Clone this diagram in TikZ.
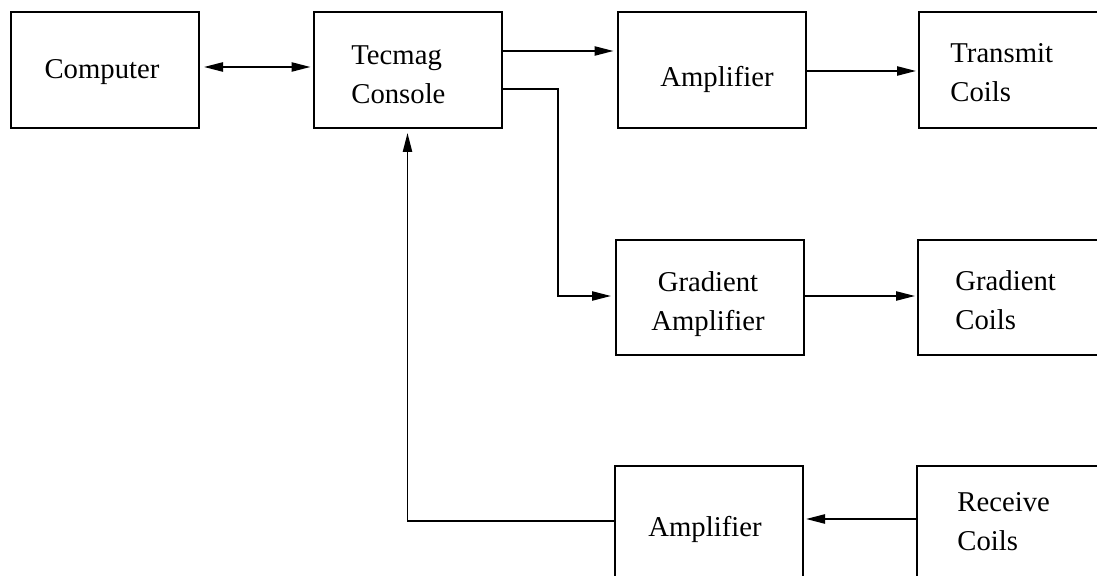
\documentclass[tikz,border=0pt]{standalone}
\usepackage{fontspec}
\setmainfont{Liberation Serif}
\usetikzlibrary{arrows.meta}
\newcommand{\twolines}[3]{\begin{tabular}[t]{@{}#1@{}}#2\\#3\end{tabular}}
\begin{document}
\begin{tikzpicture}[x=0.5pt,y=-0.5pt,
  box/.style={draw, line width=1pt, inner sep=0pt, minimum width=94pt, minimum height=58pt},
  txt/.style={inner sep=0pt, font=\fontsize{14.35pt}{19.5pt}\selectfont},
  arr/.style={line width=0.9pt, -{Triangle[length=9.5pt,width=4.6pt]}},
  darr/.style={line width=0.9pt, {Triangle[length=9.5pt,width=4.6pt]}-{Triangle[length=9.5pt,width=4.6pt]}}]
\useasboundingbox (0,0) rectangle (1097,576);
\clip (0,0) rectangle (1097,576);
% boxes
\node[box] (comp) at (105,70) {};
\node[box] (cons) at (407.5,70) {};
\node[box] (amp1) at (711.5,70) {};
\node[box] (tx) at (1013,70) {};
\node[box, minimum height=57.5pt] (gamp) at (710,297.5) {};
\node[box, minimum height=57.5pt] (gcoil) at (1012,297.5) {};
\node[box] (amp2) at (709,524) {};
\node[box] (rx) at (1011,524) {};
% texts
\node[txt, anchor=base] (tcomp) at (102,79) {Computer};
\node[txt, anchor=base west] (tcons) at (351,65) {\twolines{l}{Tecmag}{Console}};
\node[txt, anchor=base west] (tamp1) at (660,87) {Amplifier};
\node[txt, anchor=base west] (ttx) at (950,63) {\twolines{l}{Transmit}{Coils}};
\node[txt, anchor=base] (tgamp) at (708,292) {\twolines{c}{Gradient}{Amplifier}};
\node[txt, anchor=base west] (tgcoil) at (955,291) {\twolines{l}{Gradient}{Coils}};
\node[txt, anchor=base west] (tamp2) at (648,537) {Amplifier};
\node[txt, anchor=base west] (trx) at (957,512) {\twolines{l}{Receive}{Coils}};
% connectors
\coordinate (k1) at (558,89);
\draw[darr, shorten <=2pt, shorten >=1pt] ([yshift=1.5pt]comp.east) -- ([yshift=1.5pt]cons.west);
\draw[arr, shorten >=1.5pt] ([yshift=9.5pt]cons.east) -- ([yshift=9.5pt]amp1.west);
\draw[arr, shorten >=2pt] ([yshift=-9.5pt]cons.east) -- (k1) |- ([yshift=0.75pt]gamp.west);
\draw[arr, shorten >=1pt] ([yshift=-0.5pt]amp1.east) -- ([yshift=-0.5pt]tx.west);
\draw[arr, shorten >=1pt] ([yshift=0.75pt]gamp.east) -- ([yshift=0.75pt]gcoil.west);
\draw[arr, shorten >=1pt] ([yshift=2.5pt]rx.west) -- ([yshift=2.5pt]amp2.east);
\draw[arr, shorten >=2pt] ([yshift=1.5pt]amp2.west) -| (cons.south);
\end{tikzpicture}
\end{document}
